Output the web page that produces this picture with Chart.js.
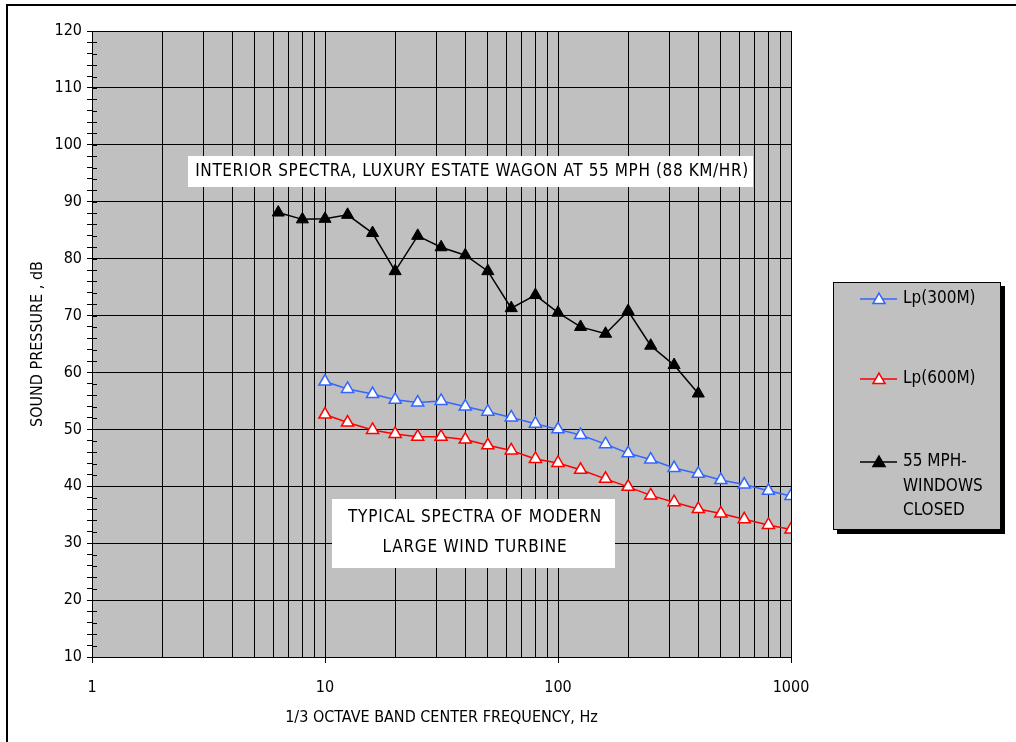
<!DOCTYPE html>
<html>
<head>
<meta charset="utf-8">
<script src="https://cdn.jsdelivr.net/npm/chart.js@4/dist/chart.umd.min.js"></script>
<style>
  html, body { margin: 0; padding: 0; background: #fff; overflow: hidden; }
  #wrap { width: 1016px; height: 742px; position: relative; }
</style>
</head>
<body>
<div id="wrap"><canvas id="lineChart"></canvas></div>
<script>
// 1/3 octave band centre frequencies
const freqTurbine = [10, 12.5, 16, 20, 25, 31.5, 40, 50, 63, 80, 100, 125, 160, 200, 250, 315, 400, 500, 630, 800, 1000];
const freqWagon = [6.3, 8, 10, 12.5, 16, 20, 25, 31.5, 40, 50, 63, 80, 100, 125, 160, 200, 250, 315, 400];

const lp300 = [58.4, 57.1, 56.2, 55.2, 54.7, 55.0, 54.0, 53.1, 52.1, 51.0, 50.0, 49.0, 47.4, 45.8, 44.7, 43.2, 42.2, 41.1, 40.3, 39.2, 38.3];
const lp600 = [52.6, 51.2, 49.9, 49.2, 48.7, 48.7, 48.2, 47.2, 46.3, 44.8, 44.1, 42.9, 41.3, 39.9, 38.4, 37.2, 36.0, 35.2, 34.2, 33.2, 32.4];
const mph55 = [88.1, 86.9, 87.0, 87.7, 84.5, 77.8, 84.0, 82.0, 80.6, 77.8, 71.3, 73.6, 70.5, 68.0, 66.8, 70.8, 64.7, 61.3, 56.3];

const seriesNames = [['Lp(300M)'], ['Lp(600M)'], ['55 MPH-', 'WINDOWS', 'CLOSED']];
const xTicks = [1, 2, 3, 4, 5, 6, 7, 8, 9, 10, 20, 30, 40, 50, 60, 70, 80, 90, 100, 200, 300, 400, 500, 600, 700, 800, 900, 1000];
const xLabels = [1, 10, 100, 1000];
const wagonNote = ['INTERIOR SPECTRA, LUXURY ESTATE WAGON AT 55 MPH (88 KM/HR)'];
const turbineNote = ['TYPICAL SPECTRA OF MODERN', 'LARGE WIND TURBINE'];

const FONT = '"Liberation Sans Narrow", "DejaVu Sans Condensed", "Arial Narrow", sans-serif';
Chart.defaults.font.family = FONT;
Chart.defaults.font.size = 16;
Chart.defaults.color = '#000';

const pts = (xs, ys) => xs.map((x, i) => ({ x: x, y: ys[i] }));

function triangle(ctx, x, y, r, fill, stroke) {
  ctx.beginPath();
  for (let k = 0; k < 3; k++) {
    const a = k * 2 * Math.PI / 3;
    const px = x + Math.sin(a) * r, py = y - Math.cos(a) * r;
    if (k === 0) ctx.moveTo(px, py); else ctx.lineTo(px, py);
  }
  ctx.closePath();
  ctx.fillStyle = fill;
  ctx.fill();
  ctx.lineWidth = 1.5;
  ctx.strokeStyle = stroke;
  ctx.stroke();
}

const backdrop = {
  id: 'backdrop',
  beforeDraw(chart) {
    const { ctx, chartArea: a } = chart;
    ctx.save();
    ctx.fillStyle = '#fff';
    ctx.fillRect(0, 0, chart.width, chart.height);
    ctx.strokeStyle = '#000';
    ctx.lineWidth = 2;
    ctx.beginPath();
    ctx.moveTo(7, chart.height + 5);
    ctx.lineTo(7, 5);
    ctx.lineTo(chart.width + 5, 5);
    ctx.stroke();
    ctx.fillStyle = '#c0c0c0';
    ctx.fillRect(a.left, a.top, a.right - a.left, a.bottom - a.top);
    ctx.restore();
  },
  afterDatasetsDraw(chart) {
    // inner half of the crossing y ticks
    const { ctx, chartArea: a } = chart;
    const ys = chart.scales.y;
    ctx.save();
    ctx.strokeStyle = '#000';
    ctx.lineWidth = 1;
    ys.ticks.forEach(t => {
      const py = Math.round(ys.getPixelForValue(t.value)) + 0.5;
      ctx.beginPath();
      ctx.moveTo(a.left, py);
      ctx.lineTo(a.left + 5, py);
      ctx.stroke();
    });
    ctx.restore();
  }
};

const notes = {
  id: 'notes',
  afterDraw(chart) {
    const ctx = chart.ctx;
    ctx.save();
    ctx.font = '17px ' + FONT;
    ctx.textAlign = 'center';
    ctx.textBaseline = 'middle';
    // annotation boxes
    ctx.fillStyle = '#fff';
    ctx.fillRect(188, 156, 565, 31);
    ctx.fillRect(332, 499, 283, 69);
    ctx.fillStyle = '#000';
    ctx.letterSpacing = '0.6px';
    ctx.fillText(wagonNote[0], 472, 172);
    ctx.letterSpacing = '0.75px';
    ctx.fillText(turbineNote[0], 475, 518);
    ctx.fillText(turbineNote[1], 475, 548);
    ctx.letterSpacing = '0px';

    // legend
    ctx.fillStyle = '#000';
    ctx.fillRect(837, 286, 168, 248);
    ctx.fillStyle = '#c0c0c0';
    ctx.fillRect(833, 282, 168, 248);
    ctx.strokeStyle = '#000';
    ctx.lineWidth = 1;
    ctx.strokeRect(833.5, 282.5, 167, 247);
    const rowY = [299, 379, 462];
    ctx.textAlign = 'left';
    chart.data.datasets.forEach((ds, i) => {
      const y = rowY[i];
      ctx.strokeStyle = ds.borderColor;
      ctx.lineWidth = 1.5;
      ctx.beginPath();
      ctx.moveTo(860, y);
      ctx.lineTo(897, y);
      ctx.stroke();
      triangle(ctx, 879, y + 1, 7, ds.pointBackgroundColor, ds.pointBorderColor);
      ctx.fillStyle = '#000';
      seriesNames[i].forEach((s, j) => ctx.fillText(s, 903, y + j * 24.5));
    });
    ctx.restore();
  }
};

new Chart(document.getElementById('lineChart'), {
  type: 'line',
  data: {
    datasets: [
      {
        label: seriesNames[0].join(' '),
        data: pts(freqTurbine, lp300),
        borderColor: '#3366ff',
        borderWidth: 1.5,
        pointStyle: 'triangle',
        pointRadius: 7,
        pointBorderWidth: 1.5,
        pointBackgroundColor: '#ffffff',
        pointBorderColor: '#3366ff'
      },
      {
        label: seriesNames[1].join(' '),
        data: pts(freqTurbine, lp600),
        borderColor: '#ff0000',
        borderWidth: 1.5,
        pointStyle: 'triangle',
        pointRadius: 7,
        pointBorderWidth: 1.5,
        pointBackgroundColor: '#ffffff',
        pointBorderColor: '#ff0000'
      },
      {
        label: seriesNames[2].join(' '),
        data: pts(freqWagon, mph55),
        borderColor: '#000000',
        borderWidth: 1.5,
        pointStyle: 'triangle',
        pointRadius: 7,
        pointBorderWidth: 1,
        pointBackgroundColor: '#000000',
        pointBorderColor: '#000000'
      }
    ]
  },
  options: {
    responsive: true,
    maintainAspectRatio: false,
    animation: false,
    layout: { padding: { left: 20, top: 31, right: 225, bottom: 10 } },
    plugins: { legend: { display: false }, tooltip: { enabled: false } },
    scales: {
      x: {
        type: 'logarithmic',
        min: 1,
        max: 1000,
        afterBuildTicks: s => { s.ticks = xTicks.map(v => ({ value: v })); },
        afterFit: s => { s.height = 75; },
        ticks: {
          autoSkip: false,
          maxRotation: 0,
          padding: 15,
          font: { size: 16 },
          callback: v => xLabels.includes(v) ? String(v) : ''
        },
        grid: {
          color: '#000',
          lineWidth: 1,
          tickLength: 6,
          tickColor: c => (c.tick && xLabels.includes(c.tick.value)) ? '#000' : 'rgba(0,0,0,0)'
        },
        border: { color: '#000', width: 1 },
        title: {
          display: true,
          text: '1/3 OCTAVE BAND CENTER FREQUENCY, Hz',
          font: { size: 16 },
          padding: { top: 0, bottom: 5 }
        }
      },
      y: {
        min: 10,
        max: 120,
        afterFit: s => { s.width = 72; },
        ticks: {
          stepSize: 2,
          autoSkip: false,
          padding: 5,
          font: { size: 16 },
          callback: v => v % 10 === 0 ? String(v) : ''
        },
        grid: {
          color: c => (c.tick && c.tick.value % 10 === 0) ? '#000' : 'rgba(0,0,0,0)',
          lineWidth: 1,
          tickLength: 5,
          tickColor: '#000'
        },
        border: { color: '#000', width: 1 },
        title: {
          display: true,
          text: 'SOUND PRESSURE , dB',
          font: { size: 16 },
          padding: { top: 8, bottom: 0 }
        }
      }
    }
  },
  plugins: [backdrop, notes]
});
</script>
</body>
</html>
